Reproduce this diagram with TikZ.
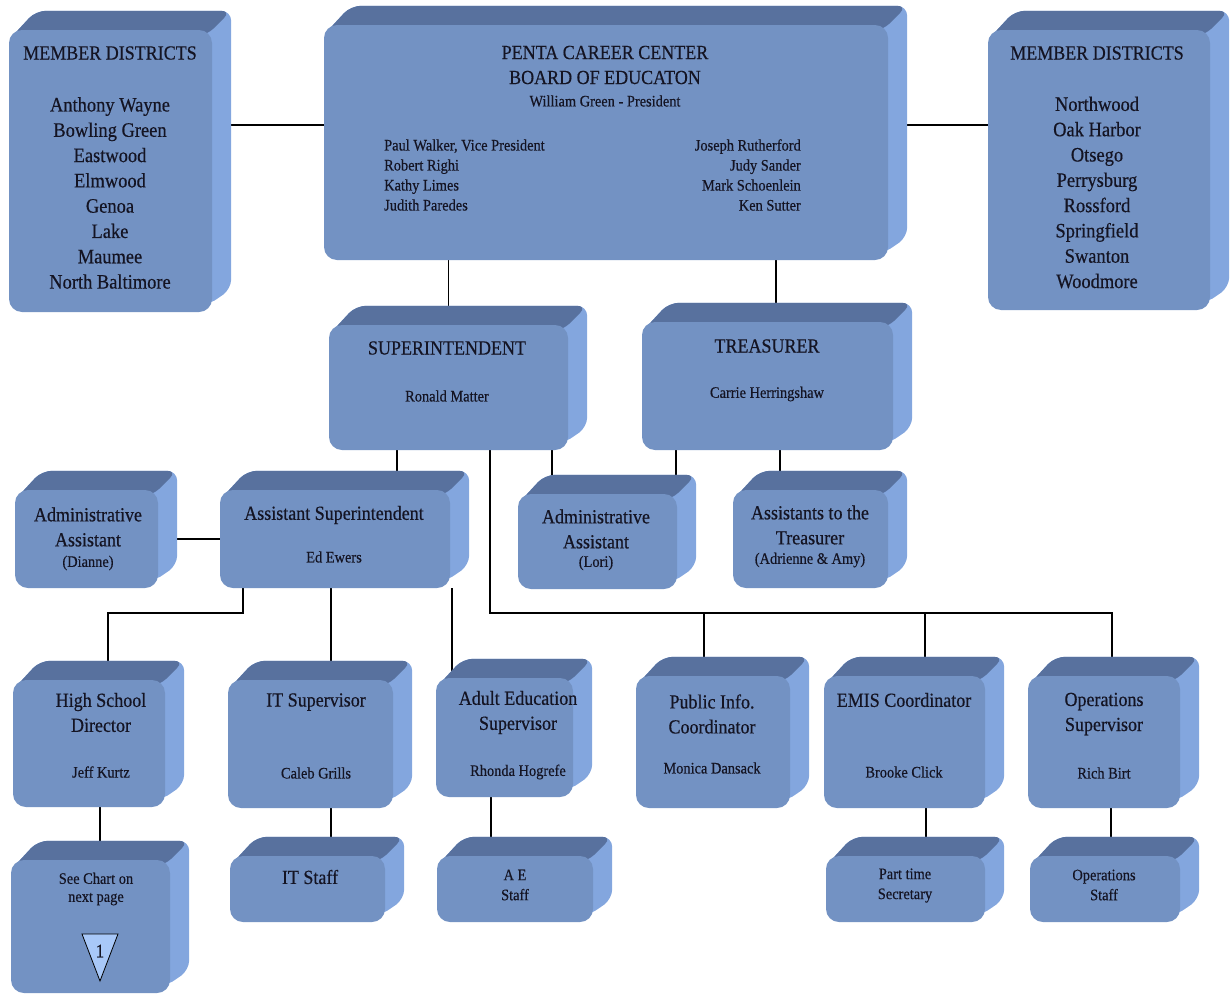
\documentclass[tikz,border=0pt]{standalone}
\usepackage{fontspec}
\setmainfont{Liberation Serif}[FakeStretch=0.9,FakeBold=0.4]
\usepackage{xcolor}

\pgfdeclarelayer{lineas}
\pgfdeclarelayer{caras}
\pgfsetlayers{lineas,caras,main}

\definecolor{frente}{RGB}{115,146,195}
\definecolor{techo}{RGB}{88,113,158}
\definecolor{lado}{RGB}{131,166,222}
\definecolor{marca}{RGB}{168,200,248}
\definecolor{tinta}{RGB}{20,20,35}

\newcommand\txgrande{\fontsize{20}{25}\selectfont}
\newcommand\txlista{\fontsize{20.5}{25.3}\selectfont}
\newcommand\txchico{\fontsize{16}{20}\selectfont}

\begin{document}
\begin{tikzpicture}[x=1pt,y=-1pt,
  caja/.style={fill=frente,rounded corners=13pt,inner sep=0pt},
  tam/.style 2 args={minimum width=#1pt,minimum height=#2pt},
  titulo/.style={font=\txgrande,align=center,inner sep=0pt,text=tinta},
  nombre/.style={font=\txchico,align=center,inner sep=0pt,text=tinta},
  linea/.style={draw=black,line width=1.2pt}]
  % Profundidad de las cajas
  \def\prof{19}
  \useasboundingbox (0,0) rectangle (1232,996);

  % Cajas (cara frontal)
  \node[caja,tam={203}{282}] (mdL)   at (110.5,171) {};
  \node[caja,tam={564}{235}] (board) at (606,142.5) {};
  \node[caja,tam={222}{280}] (mdR)   at (1099,170) {};
  \node[caja,tam={239}{125}] (sup)   at (448.5,387.5) {};
  \node[caja,tam={251}{128}] (trea)  at (767.5,386) {};
  \node[caja,tam={143}{98}]  (aaD)   at (86.5,539) {};
  \node[caja,tam={230}{98}]  (asup)  at (335,539) {};
  \node[caja,tam={159}{95}]  (aaL)   at (597.5,541.5) {};
  \node[caja,tam={155}{98}]  (atr)   at (810.5,539) {};
  \node[caja,tam={152}{127}] (hsd)   at (89,743.5) {};
  \node[caja,tam={165}{128}] (its)   at (310.5,744) {};
  \node[caja,tam={137}{119}] (aes)   at (504.5,737.5) {};
  \node[caja,tam={154}{132}] (pic)   at (713,742) {};
  \node[caja,tam={161}{132}] (emis)  at (904.5,742) {};
  \node[caja,tam={152}{132}] (ops)   at (1104,742) {};
  \node[caja,tam={159}{133}] (see)   at (90.5,926.5) {};
  \node[caja,tam={155}{66}]  (itst)  at (307.5,889) {};
  \node[caja,tam={156}{66}]  (aest)  at (515,889) {};
  \node[caja,tam={159}{66}]  (pts)   at (905.5,889) {};
  \node[caja,tam={150}{66}]  (opst)  at (1105,889) {};

  % Caras superior y lateral
  \begin{pgfonlayer}{caras}
    \foreach \n in {mdL,board,mdR,sup,trea,aaD,asup,aaL,atr,hsd,its,aes,pic,emis,ops,see,itst,aest,pts,opst} {
      \fill[lado,rounded corners=10pt] ([shift={(2,8)}]\n.north west)
        -- ([shift={(\prof+8,-\prof)}]\n.north west) -- ([shift={(\prof,-\prof)}]\n.north east)
        -- ([shift={(\prof,-\prof-4)}]\n.south east) -- ([shift={(-6,-6)}]\n.south east) -- cycle;
      \fill[techo,rounded corners=10pt] ([shift={(2,8)}]\n.north west)
        -- ([shift={(\prof+8,-\prof)}]\n.north west) -- ([shift={(\prof,-\prof)}]\n.north east)
        -- ([shift={(-6,6)}]\n.north east) -- cycle;
    }
  \end{pgfonlayer}

  % Textos
  \node[titulo] (mdLt) at (110,53) {MEMBER DISTRICTS};
  \node[titulo,font=\txlista] (mdLn) at (110,193) {Anthony Wayne\\Bowling Green\\Eastwood\\Elmwood\\Genoa\\Lake\\Maumee\\North Baltimore};
  \node[titulo] (bdT) at (605,65) {PENTA CAREER CENTER\\BOARD OF EDUCATON};
  \node[nombre] (bdP) at (605,101) {William Green - President};
  \node[nombre,align=left,anchor=west] (bdL) at (384,175) {Paul Walker, Vice President\\Robert Righi\\Kathy Limes\\Judith Paredes};
  \node[nombre,align=right,anchor=east] (bdR) at (801,175) {Joseph Rutherford\\Judy Sander\\Mark Schoenlein\\Ken Sutter};
  \node[titulo] (mdRt) at (1097,53) {MEMBER DISTRICTS};
  \node[titulo,font=\txlista] (mdRn) at (1097,192.5) {Northwood\\Oak Harbor\\Otsego\\Perrysburg\\Rossford\\Springfield\\Swanton\\Woodmore};
  \node[titulo] (supT) at (447,348) {SUPERINTENDENT};
  \node[nombre] (supN) at (447,396) {Ronald Matter};
  \node[titulo] (treT) at (767,346) {TREASURER};
  \node[nombre] (treN) at (767,394) {Carrie Herringshaw};
  \node[titulo] (aaDT) at (88,527) {Administrative\\Assistant};
  \node[nombre] (aaDN) at (88,563) {(Dianne)};
  \node[titulo] (asupT) at (334,515) {Assistant Superintendent};
  \node[nombre] (asupN) at (334,557) {Ed Ewers};
  \node[titulo] (aaLT) at (596,529) {Administrative\\Assistant};
  \node[nombre] (aaLN) at (596,563) {(Lori)};
  \node[titulo] (atrT) at (810,525) {Assistants to the\\Treasurer};
  \node[nombre] (atrN) at (810,560) {(Adrienne \& Amy)};
  \node[titulo] (hsdT) at (101,712.5) {High School\\Director};
  \node[nombre] (hsdN) at (101,772) {Jeff Kurtz};
  \node[titulo] (itsT) at (316,702) {IT Supervisor};
  \node[nombre] (itsN) at (316,773) {Caleb Grills};
  \node[titulo] (aesT) at (518,712.5) {Adult Education\\Supervisor};
  \node[nombre] (aesN) at (518,772) {Rhonda Hogrefe};
  \node[titulo] (picT) at (712,714) {Public Info.\\Coordinator};
  \node[nombre] (picN) at (712,768) {Monica Dansack};
  \node[titulo] (emisT) at (904,700) {EMIS Coordinator};
  \node[nombre] (emisN) at (904,772) {Brooke Click};
  \node[titulo] (opsT) at (1104,714) {Operations\\Supervisor};
  \node[nombre] (opsN) at (1104,773) {Rich Birt};
  \node[nombre,font=\fontsize{16}{18}\selectfont] (seeT) at (96,889) {See Chart on\\next page};
  \node[titulo] (itstT) at (310,877) {IT Staff};
  \node[nombre] (aestT) at (515,885) {A E\\Staff};
  \node[nombre] (ptsT) at (905,885.5) {Part time\\Secretary};
  \node[nombre] (opstT) at (1104,885) {Operations\\Staff};

  % Marca de continuación
  \draw[fill=marca,line width=0.8pt] (82,934) -- (118,934) -- (100,981) -- cycle;
  \node[titulo,font=\fontsize{19}{20}\selectfont] (uno) at (100,951) {1};

  % Conectores
  \begin{pgfonlayer}{lineas}
    \coordinate (ja) at ([yshift=46pt]mdL.east);
    \coordinate (jb) at ([yshift=45pt]mdR.west);
    \coordinate (barra) at (0,613);
    \draw[linea] (ja) -- (ja -| board.west);
    \draw[linea] (jb) -- (jb -| board.east);
    \draw[linea] (sup.north) -- (sup.north |- board.south);
    \coordinate (jd) at ([xshift=8.5pt]trea.north);
    \draw[linea] (jd) -- (jd |- board.south);
    \draw[linea] (aaD.east) -- (asup.west);
    \foreach \p/\dx/\h in {sup/-51.5/asup, sup/103.5/aaL, trea/-91.5/aaL, trea/12.5/atr,
                           asup/-4/its, asup/117/aes, hsd/11/see, its/20.5/itst,
                           aes/-13.5/aest, emis/21.5/pts, ops/7/opst} {
      \coordinate (q) at ([xshift=\dx pt]\p.south);
      \draw[linea] (q) -- (q |- \h.north);
    }
    % Barra de la superintendencia
    \coordinate (bus) at ([xshift=41.5pt]sup.south);
    \draw[linea] (bus) -- (bus |- barra) -| ([xshift=8pt]ops.north);
    \foreach \h/\dx in {pic/-9, emis/20.5} {
      \coordinate (q) at ([xshift=\dx pt]\h.north);
      \draw[linea] (q) -- (q |- barra);
    }
    \coordinate (izq) at ([xshift=-92pt]asup.south);
    \draw[linea] (izq) -- (izq |- barra) -| ([xshift=19pt]hsd.north);
  \end{pgfonlayer}
\end{tikzpicture}
\end{document}
